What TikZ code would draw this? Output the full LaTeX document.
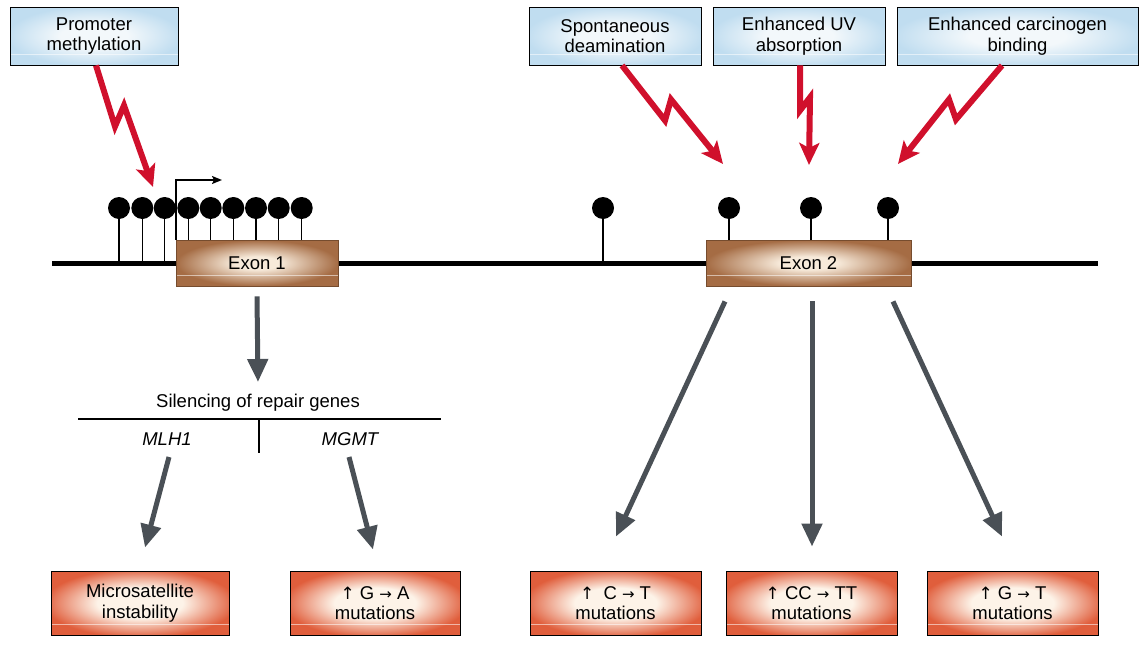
\documentclass[tikz,border=0pt]{standalone}
\usepackage{fontspec}
\setmainfont{Liberation Sans}
\newfontfamily\arrowfont{DejaVu Sans}
\usetikzlibrary{arrows.meta}
\definecolor{boltred}{RGB}{208,16,44}
\definecolor{arrowgrey}{RGB}{74,80,86}
\definecolor{blueout}{RGB}{192,221,240}
\definecolor{bluein}{RGB}{243,248,251}
\definecolor{brownout}{RGB}{165,108,68}
\definecolor{brownin}{RGB}{247,234,218}
\definecolor{brownline}{RGB}{118,76,46}
\definecolor{redout}{RGB}{224,94,60}
\definecolor{redin}{RGB}{253,243,232}
\pgfdeclareradialshading{blueglow}{\pgfpoint{0bp}{0bp}}{color(0bp)=(bluein); color(10bp)=(bluein); color(26bp)=(blueout); color(50bp)=(blueout)}
\pgfdeclareradialshading{brownglow}{\pgfpoint{0bp}{0bp}}{color(0bp)=(brownin); color(7bp)=(brownin); color(25bp)=(brownout); color(50bp)=(brownout)}
\pgfdeclareradialshading{redglow}{\pgfpoint{0bp}{0bp}}{color(0bp)=(redin); color(12bp)=(redin); color(27bp)=(redout); color(50bp)=(redout)}
\newcommand{\diagfont}{\fontsize{18.5pt}{20.5pt}\selectfont}
\newcommand{\upmark}{{\arrowfont\fontsize{17pt}{20.5pt}\selectfont ↑}}
\newcommand{\tomark}{{\arrowfont\fontsize{15pt}{20.5pt}\selectfont →}}
\begin{document}
\begin{tikzpicture}[x=1pt, y=-1pt, font=\diagfont]
    \tikzstyle{gloss}=[path picture={\draw[white, opacity=.55, line width=.8pt] ([yshift=11pt]path picture bounding box.south west) -- ([yshift=11pt]path picture bounding box.south east);}]
    \tikzstyle{cause}=[draw=black, line width=.9pt, shade, shading=blueglow, gloss, minimum height=58pt, inner sep=0pt, align=center]
    \tikzstyle{exon}=[draw=brownline, line width=.9pt, shade, shading=brownglow, gloss, minimum height=46pt, inner sep=0pt]
    \tikzstyle{effect}=[draw=black, line width=.9pt, shade, shading=redglow, gloss, minimum height=64pt, inner sep=0pt, align=center]
    \tikzstyle{methyl}=[circle, fill=black, inner sep=0pt, minimum size=22pt]
    \tikzstyle{stem}=[line width=1.1pt]
    \tikzstyle{bracket}=[line width=2pt]
    \tikzstyle{bolt}=[draw=boltred, line width=6pt, line join=miter, -{Stealth[length=22pt, width=20pt, inset=5pt]}]
    \tikzstyle{push}=[draw=arrowgrey, line width=5pt, -{Triangle[length=23pt, width=20pt]}]
    \useasboundingbox (0,0) rectangle (1148,648);

    \coordinate (gl) at (52,263);
    \coordinate (gr) at (1098,263);
    \draw[line width=5pt] (gl) -- (gr);

    \node[exon, minimum width=162pt] (exA) at (257,263) {Exon 1};
    \node[exon, minimum width=205pt] (exB) at (808.5,263) {Exon 2};

    \coordinate (tss) at (222,180);
    \draw[line width=1.6pt, -{Stealth[length=10pt, width=8pt, inset=2pt]}] ([xshift=.7pt]exA.north west) |- (tss);

    \foreach \x [count=\i] in {119,142.3,164.7} {
      \node[methyl] (ma\i) at (\x,208) {};
      \draw[stem] (ma\i.south) -- (ma\i |- gl);
    }
    \foreach \x [count=\i] in {188.3,210.7,233.3,256,278.7,301.7} {
      \node[methyl] (mb\i) at (\x,208) {};
      \draw[stem] (mb\i.south) -- (mb\i |- exA.north);
    }
    \node[methyl] (mc) at (603,208) {};
    \draw[stem] (mc.south) -- (mc |- gl);
    \foreach \x [count=\i] in {729,811,888} {
      \node[methyl] (md\i) at (\x,208) {};
      \draw[stem] (md\i.south) -- (md\i |- exB.north);
    }

    \node[cause, minimum width=168pt] (prom) at (94,36) {Promoter\\methylation};
    \node[cause, minimum width=172pt] (spont) at (615,36) {Spontaneous\\deamination};
    \node[cause, minimum width=172pt] (uv) at (799,36) {Enhanced UV\\absorption};
    \node[cause, minimum width=241pt] (carc) at (1017.5,36) {Enhanced carcinogen\\binding};

    \coordinate (hitA) at (153,187);
    \coordinate (hitB) at (723,164);
    \coordinate (hitC) at (809,165);
    \coordinate (hitD) at (898,164);
    \draw[bolt] ([xshift=2pt]prom.south) -- ++(19,61) -- ++(9,-21) -- (hitA);
    \draw[bolt] ([xshift=7pt]spont.south) -- ++(43,55) -- ++(6,-21) -- (hitB);
    \draw[bolt] ([xshift=1pt]uv.south) -- ++(0,45) -- ++(10,-13) -- (hitC);
    \draw[bolt] ([xshift=-15.5pt]carc.south) -- ++(-46,54) -- ++(-7,-20) -- (hitD);

    \node[anchor=base] (sil) at (258,407.7) {Silencing of repair genes};
    \coordinate (brl) at (78,419);
    \coordinate (brr) at (441,419);
    \coordinate (brm) at (259,419);
    \coordinate (brs) at (259,453);
    \draw[bracket] (brl) -- (brr);
    \draw[bracket] (brm) -- (brs);
    \node[anchor=base, font=\diagfont\itshape] (mlh) at (167,445) {MLH1};
    \node[anchor=base, font=\diagfont\itshape] (mgmt) at (350,445) {MGMT};

    \node[effect, minimum width=178pt] (msi) at (140,603) {Microsatellite\\instability};
    \node[effect, minimum width=170pt] (ga) at (375,603) {\upmark\ G \tomark\ A\\mutations};
    \node[effect, minimum width=171pt] (ct) at (615.5,603) {\upmark\enspace C \tomark\ T\\mutations};
    \node[effect, minimum width=171pt] (cctt) at (811.5,603) {\upmark\ CC \tomark\ TT\\mutations};
    \node[effect, minimum width=171pt] (gt) at (1012.5,603) {\upmark\ G \tomark\ T\\mutations};

    \draw[push] ([yshift=-10pt]exA.south) -- ([yshift=25.7pt]sil.base);
    \draw[push] ([xshift=2pt, yshift=-12pt]mlh.base) -- ([xshift=5pt, yshift=23pt]msi.north);
    \draw[push] ([xshift=-1pt, yshift=-12pt]mgmt.base) -- ([xshift=-2pt, yshift=21pt]ga.north);
    \draw[push] ([xshift=-83.5pt, yshift=-15pt]exB.south) -- ([xshift=.5pt, yshift=34pt]ct.north);
    \draw[push] ([xshift=3.5pt, yshift=-15pt]exB.south) -- ([xshift=.5pt, yshift=24pt]cctt.north);
    \draw[push] ([xshift=84.5pt, yshift=-15pt]exB.south) -- ([xshift=-10.5pt, yshift=34pt]gt.north);
\end{tikzpicture}
\end{document}
